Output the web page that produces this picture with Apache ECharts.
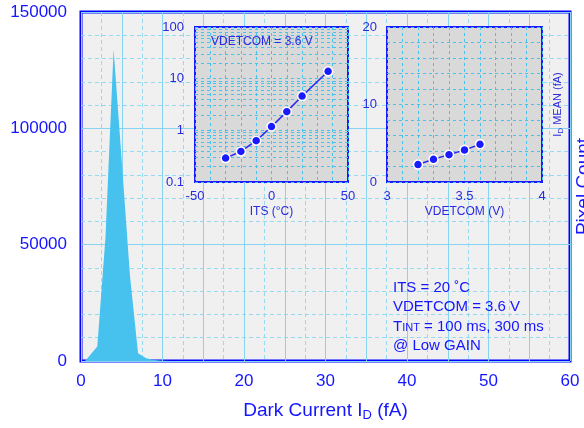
<!DOCTYPE html>
<html>
<head>
<meta charset="utf-8">
<script src="https://cdn.jsdelivr.net/npm/echarts@6/dist/echarts.min.js"></script>
<style>html,body{margin:0;padding:0;background:#fff;}#c{width:584px;height:428px;}</style>
</head>
<body>
<div id="c"></div>
<script>
// Histogram (main chart)
var histX = [0.5, 2, 3, 4, 5, 6, 7, 8, 9, 10, 11];
var histY = [0, 6200, 53000, 134000, 86000, 37000, 3300, 1200, 450, 150, 0];
// Inset 1: ID mean vs ITS (log)
var itsX = [-30, -20, -10, 0, 10, 20, 37];
var itsY = [0.29, 0.39, 0.63, 1.18, 2.3, 4.6, 13.9];
// Inset 2: ID mean vs VDETCOM
var vdetX = [3.2, 3.3, 3.4, 3.5, 3.6];
var vdetY = [2.25, 2.93, 3.53, 4.13, 4.86];
// Log minor grid values for inset 1
var logMinor = [0.2,0.3,0.4,0.5,0.6,0.7,0.8,0.9,2,3,4,5,6,7,8,9,20,30,40,50,60,70,80,90];

var BLUE = '#1515ff';
var IBLUE = '#2a2ae0';
var solidGrid = '#86d4f2';
var dashGrid = '#95d9f3';
var inDash = '#45c3ee';

function pairs(xs, ys){ return xs.map(function(x,i){return [x, ys[i]];}); }

var chart = echarts.init(document.getElementById('c'));
var option = {
  animation: false,
  textStyle: {fontFamily: 'Liberation Sans, Arial, sans-serif'},
  grid: [
    {left: 81, top: 12, width: 489, height: 349, outerBoundsMode: 'none', containLabel: false, show: true, backgroundColor: '#f0f0f0', borderColor: '#0000ff', borderWidth: 3, z: 0},
    {left: 195, top: 27, width: 153, height: 155, outerBoundsMode: 'none', containLabel: false, show: true, backgroundColor: '#d9d9d9', borderColor: '#1a1aff', borderWidth: 2, z: 3},
    {left: 387, top: 27, width: 155, height: 155, outerBoundsMode: 'none', containLabel: false, show: true, backgroundColor: '#d9d9d9', borderColor: '#1a1aff', borderWidth: 2, z: 3}
  ],
  xAxis: [
    {gridIndex: 0, type: 'value', min: 0, max: 60, interval: 5, z: 1,
     name: '{n|Dark Current I}{s|D}{n| (fA)}', nameLocation: 'middle', nameGap: 38,
     nameTextStyle: {rich: {n: {fontSize: 19, color: BLUE}, s: {fontSize: 13, color: BLUE, padding: [10,0,0,0]}}},
     axisLine: {show: false}, axisTick: {show: false},
     axisLabel: {fontSize: 17, color: BLUE, margin: 12, formatter: function(v){return v % 10 === 0 ? String(v) : '';}},
     splitLine: {show: true, lineStyle: {color: solidGrid, width: 1}},
     minorTick: {show: false, splitNumber: 2},
     minorSplitLine: {show: true, lineStyle: {color: dashGrid, type: [4,3], width: 1}}},
    {gridIndex: 1, type: 'value', min: -50, max: 50, interval: 50, z: 4,
     name: 'ITS (°C)', nameLocation: 'middle', nameGap: 24, nameTextStyle: {fontSize: 12, color: IBLUE},
     axisLine: {show: false}, axisTick: {show: false},
     axisLabel: {fontSize: 13, color: IBLUE, margin: 8},
     splitLine: {show: true, lineStyle: {color: inDash, type: [3,3]}},
     minorTick: {show: false, splitNumber: 5},
     minorSplitLine: {show: true, lineStyle: {color: inDash, type: [3,3]}}},
    {gridIndex: 2, type: 'value', min: 3, max: 4, interval: 0.5, z: 4,
     name: 'VDETCOM (V)', nameLocation: 'middle', nameGap: 24, nameTextStyle: {fontSize: 12, color: IBLUE},
     axisLine: {show: false}, axisTick: {show: false},
     axisLabel: {fontSize: 13, color: IBLUE, margin: 8},
     splitLine: {show: true, lineStyle: {color: inDash, type: [3,3]}},
     minorTick: {show: false, splitNumber: 5},
     minorSplitLine: {show: true, lineStyle: {color: inDash, type: [3,3]}}}
  ],
  yAxis: [
    {gridIndex: 0, type: 'value', min: 0, max: 150000, interval: 50000, z: 1,
     axisLine: {show: false}, axisTick: {show: false},
     axisLabel: {fontSize: 17, color: BLUE, margin: 14, formatter: function(v){return String(v);}},
     splitLine: {show: true, lineStyle: {color: solidGrid, width: 1}},
     minorTick: {show: false, splitNumber: 5},
     minorSplitLine: {show: true, lineStyle: {color: dashGrid, type: [4,3], width: 1}}},
    {gridIndex: 0, type: 'value', min: 0, max: 150000, position: 'right', z: 1,
     name: 'Pixel Count', nameLocation: 'middle', nameGap: 4, nameTextStyle: {fontSize: 19, color: BLUE},
     axisLine: {show: false}, axisTick: {show: false}, axisLabel: {show: false}, splitLine: {show: false}},
    {gridIndex: 1, type: 'log', logBase: 10, min: 0.1, max: 100, z: 4,
     axisLine: {show: false}, axisTick: {show: false},
     axisLabel: {fontSize: 13, color: IBLUE, margin: 11},
     splitLine: {show: true, lineStyle: {color: inDash, type: [3,3]}}},
    {gridIndex: 2, type: 'value', min: 0, max: 20, interval: 10, z: 4,
     axisLine: {show: false}, axisTick: {show: false},
     axisLabel: {fontSize: 13, color: IBLUE, margin: 10},
     splitLine: {show: true, lineStyle: {color: inDash, type: [3,3]}},
     minorTick: {show: false, splitNumber: 5},
     minorSplitLine: {show: true, lineStyle: {color: inDash, type: [3,3]}}},
    {gridIndex: 2, type: 'value', min: 0, max: 20, position: 'right', z: 4,
     name: '{n|I}{s|D}{n| MEAN (fA)}', nameLocation: 'middle', nameGap: 9,
     nameTextStyle: {rich: {n: {fontSize: 11, color: IBLUE}, s: {fontSize: 8, color: IBLUE, padding: [6,0,0,0]}}},
     axisLine: {show: false}, axisTick: {show: false}, axisLabel: {show: false}, splitLine: {show: false}}
  ],
  series: [
    {type: 'line', xAxisIndex: 0, yAxisIndex: 0, data: pairs(histX, histY), z: 2,
     symbol: 'none', lineStyle: {width: 0, color: '#47c2ef'}, areaStyle: {color: '#47c2ef', opacity: 1}},
    {type: 'line', xAxisIndex: 1, yAxisIndex: 2, data: pairs(itsX, itsY), z: 6,
     symbol: 'circle', symbolSize: 9, lineStyle: {color: '#2b2bf0', width: 1.5},
     itemStyle: {color: '#1a1aff', borderColor: '#ffffff', borderWidth: 1.5},
     markLine: {silent: true, symbol: 'none', label: {show: false}, z: 4,
       lineStyle: {color: inDash, type: [3,3], width: 1},
       data: logMinor.map(function(v){return {yAxis: v};})}},
    {type: 'line', xAxisIndex: 2, yAxisIndex: 3, data: pairs(vdetX, vdetY), z: 6,
     symbol: 'circle', symbolSize: 9, lineStyle: {color: '#2b2bf0', width: 1.5},
     itemStyle: {color: '#1a1aff', borderColor: '#ffffff', borderWidth: 1.5}}
  ],
  graphic: [
    {type: 'text', left: 211, top: 36, z: 10, style: {text: 'VDETCOM = 3.6 V', fontSize: 12, fill: IBLUE, fontFamily: 'Liberation Sans, Arial, sans-serif'}},
    {type: 'text', left: 393, top: 278, z: 10, style: {
      text: 'ITS = 20 ˚C\nVDETCOM = 3.6 V\n{t|T}{s|INT}{t| = 100 ms, 300 ms}\n@ Low GAIN',
      fontSize: 15, lineHeight: 19.5, fill: BLUE, fontFamily: 'Liberation Sans, Arial, sans-serif',
      rich: {t: {fontSize: 15, fill: BLUE, lineHeight: 19.5}, s: {fontSize: 11, fill: BLUE, lineHeight: 19.5, padding: [3,0,0,0]}}}}
  ]
};
chart.setOption(option);
</script>
</body>
</html>
